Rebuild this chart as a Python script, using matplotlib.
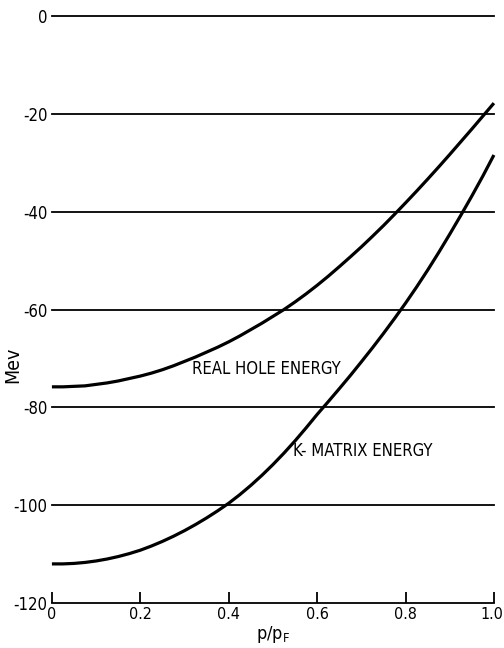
import numpy as np
from matplotlib import pyplot as plt

# values (p/pF, Mev)
p = [0.000, 0.025, 0.050, 0.075, 0.100, 0.125, 0.150, 0.175, 0.200, 0.225,
     0.250, 0.275, 0.300, 0.325, 0.350, 0.375, 0.400, 0.425, 0.450, 0.475,
     0.500, 0.525, 0.550, 0.575, 0.600, 0.625, 0.650, 0.675, 0.700, 0.725,
     0.750, 0.775, 0.800, 0.825, 0.850, 0.875, 0.900, 0.925, 0.950, 0.975, 1.000]
real_hole = [-75.8, -75.8, -75.7, -75.6, -75.3, -75.0, -74.6, -74.1, -73.6, -73.0,
             -72.3, -71.5, -70.6, -69.7, -68.7, -67.7, -66.6, -65.4, -64.1, -62.8,
             -61.4, -60.0, -58.45, -56.8, -55.05, -53.2, -51.25, -49.25, -47.2, -45.05,
             -42.85, -40.55, -38.2, -35.8, -33.35, -30.85, -28.3, -25.7, -23.1, -20.45, -17.8]
k_matrix = [-112.0, -112.0, -111.9, -111.7, -111.4, -111.0, -110.5, -109.9, -109.2, -108.35,
            -107.4, -106.35, -105.2, -103.95, -102.6, -101.15, -99.6, -97.85, -95.95, -93.9,
            -91.7, -89.35, -86.85, -84.2, -81.45, -78.85, -76.2, -73.5, -70.7, -67.85,
            -64.9, -61.85, -58.7, -55.4, -51.95, -48.35, -44.6, -40.75, -36.8, -32.7, -28.4]

yticks = [0, -20, -40, -60, -80, -100, -120]
xticks = [0, 0.2, 0.4, 0.6, 0.8, 1.0]
xticklabels = ['0', '0.2', '0.4', '0.6', '0.8', '1.0']

plt.rcParams['font.family'] = ['Liberation Sans Narrow', 'DejaVu Sans']
plt.rcParams['font.stretch'] = 'condensed'
plt.rcParams['axes.unicode_minus'] = False

fig = plt.figure(figsize=(5.04, 6.48), dpi=100)
ax = fig.add_axes([0.103, 0.0694, 0.877, 0.9058])

# horizontal rules
for y in yticks[:-1]:
    ax.axhline(y, color='black', lw=1.3, clip_on=False, zorder=1)

ax.plot(p, real_hole, color='black', lw=2.3, solid_capstyle='butt', clip_on=False)
ax.plot(p, k_matrix, color='black', lw=2.3, solid_capstyle='butt', clip_on=False)

ax.text(0.317, -72.2, 'REAL HOLE ENERGY', fontsize=12, va='center')
ax.text(0.545, -89.0, 'K- MATRIX ENERGY', fontsize=12, va='center')

ax.set_xlim(0, 1.0)
ax.set_ylim(-120, 0)
for s in ['top', 'right', 'left']:
    ax.spines[s].set_visible(False)
ax.spines['bottom'].set_linewidth(1.3)

ax.set_xticks(xticks)
ax.set_xticklabels(xticklabels)
ax.set_yticks(yticks)
ax.tick_params(axis='x', direction='in', length=8, width=1.3, pad=3, labelsize=11.5)
ax.tick_params(axis='y', length=0, pad=3, labelsize=12)

# keep the last x label inside the figure
ax.get_xticklabels()[-1].set_horizontalalignment('right')
ax.get_xticklabels()[-1].set_x(1.0)
lbl = ax.get_xticklabels()[-1]
from matplotlib.transforms import offset_copy
lbl.set_transform(offset_copy(lbl.get_transform(), fig=fig, x=9, y=0, units='dots'))

ax.set_ylabel('Mev', fontsize=14)
ax.yaxis.set_label_coords(-0.066, 0.405)
ax.set_xlabel('p/p$_\\mathregular{F}$', fontsize=13)
ax.xaxis.set_label_coords(0.5, -0.036)

fig.savefig('out.png', dpi=100)
